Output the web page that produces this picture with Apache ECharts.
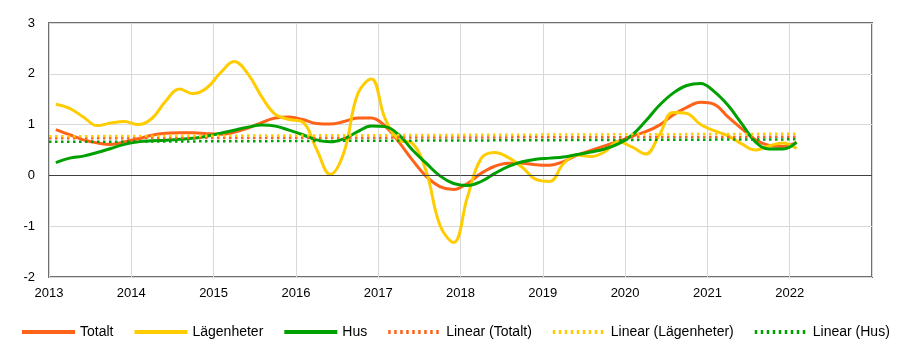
<!DOCTYPE html>
<html>
<head>
<meta charset="utf-8">
<script src="https://cdn.jsdelivr.net/npm/echarts@6/dist/echarts.min.js"></script>
<style>
    html, body { margin: 0; padding: 0; background: #fff; }
    #chart { width: 898px; height: 352px; }
</style>
</head>
<body>
<div id="chart"></div>
<script>
    // every second month, Feb 2013 .. Feb 2022
    var periods = [];
    for (var y = 2013; y <= 2022; y++) {
        ['02', '04', '06', '08', '10', '12'].forEach(function (m) {
            if (y < 2022 || m === '02') periods.push(y + '-' + m);
        });
    }

    var yearTicks = [2013, 2014, 2015, 2016, 2017, 2018, 2019, 2020, 2021, 2022];

    var totalt = [
        0.90, 0.80, 0.70, 0.64, 0.61, 0.66,
        0.72, 0.79, 0.83, 0.84, 0.84, 0.82,
        0.81, 0.85, 0.93, 1.04, 1.13, 1.15,
        1.10, 1.02, 1.01, 1.06, 1.13, 1.13,
        0.97, 0.66, 0.30, -0.02, -0.22, -0.28,
        -0.16, 0.04, 0.18, 0.24, 0.24, 0.21,
        0.20, 0.27, 0.40, 0.49, 0.58, 0.67,
        0.77, 0.86, 0.99, 1.19, 1.34, 1.44,
        1.40, 1.15, 0.92, 0.70, 0.59, 0.57,
        0.65
    ];
    var lagenheter = [
        1.40, 1.32, 1.15, 0.98, 1.03, 1.06,
        1.00, 1.12, 1.46, 1.70, 1.61, 1.72,
        2.02, 2.24, 2.00, 1.55, 1.20, 1.10,
        1.05, 0.52, 0.02, 0.45, 1.60, 1.90,
        1.12, 0.70, 0.63, 0.08, -0.98, -1.32,
        -0.43, 0.33, 0.45, 0.35, 0.16, -0.08,
        -0.12, 0.23, 0.40, 0.37, 0.46, 0.66,
        0.56, 0.42, 0.80, 1.24, 1.22, 1.00,
        0.88, 0.78, 0.62, 0.50, 0.58, 0.64,
        0.53
    ];
    var hus = [
        0.25, 0.34, 0.38, 0.45, 0.53, 0.61,
        0.66, 0.68, 0.69, 0.71, 0.73, 0.77,
        0.83, 0.89, 0.95, 0.99, 0.97, 0.89,
        0.80, 0.70, 0.66, 0.72, 0.86, 0.97,
        0.96, 0.80, 0.50, 0.24, -0.01, -0.16,
        -0.20, -0.12, 0.04, 0.18, 0.27, 0.32,
        0.34, 0.36, 0.41, 0.46, 0.52, 0.62,
        0.79, 1.07, 1.38, 1.62, 1.77, 1.81,
        1.65, 1.38, 1.02, 0.66, 0.52, 0.52,
        0.65
    ];

    // linear trend lines: [start, end]
    var trendX = [2013.0, 2022.1];
    var trendTotalt = [0.73, 0.76];
    var trendLagenheter = [0.77, 0.82];
    var trendHus = [0.66, 0.71];

    var colors = {
        totalt: '#ff6319',
        lagenheter: '#ffcc00',
        hus: '#00a000'
    };

    function toYear(p) {
        var parts = p.split('-');
        return +parts[0] + (+parts[1] - 1) / 12;
    }
    function pairs(xs, vals) {
        return vals.map(function (v, i) { return [xs[i], v]; });
    }
    var xs = periods.map(toYear);

    function solid(name, vals, color) {
        return {
            name: name, type: 'line', data: pairs(xs, vals),
            smooth: 0.4, symbol: 'none', color: color,
            lineStyle: { width: 3, color: color }
        };
    }
    function trend(name, vals, color) {
        return {
            name: name, type: 'line', data: pairs(trendX, vals),
            symbol: 'none', color: color,
            lineStyle: { width: 2.5, color: color, type: [2.5, 3.5] }
        };
    }

    var series = [
        solid('Totalt', totalt, colors.totalt),
        solid('Lägenheter', lagenheter, colors.lagenheter),
        solid('Hus', hus, colors.hus),
        trend('Linear (Totalt)', trendTotalt, colors.totalt),
        trend('Linear (Lägenheter)', trendLagenheter, colors.lagenheter),
        trend('Linear (Hus)', trendHus, colors.hus)
    ];
    // zero line
    series[0].markLine = {
        silent: true, symbol: 'none', label: { show: false },
        lineStyle: { color: '#404040', width: 1, type: 'solid' },
        data: [{ yAxis: 0 }]
    };

    var chart = echarts.init(document.getElementById('chart'));
    chart.setOption({
        animation: false,
        textStyle: { fontFamily: 'Liberation Sans, Arial, sans-serif' },
        grid: {
            left: 49, right: 26, top: 23, bottom: 75,
            show: true, borderColor: '#707070', borderWidth: 2,
            containLabel: false, outerBoundsMode: 'none'
        },
        legend: {
            left: 15, top: 320, width: 890, padding: 5,
            itemWidth: 53, itemHeight: 14, itemGap: 19,
            itemStyle: { opacity: 0 },
            lineStyle: { width: 4 },
            textStyle: { fontSize: 14, color: '#000' },
            data: series.map(function (s) { return s.name; })
        },
        xAxis: {
            type: 'value', min: 2013, max: 2023, interval: 1,
            axisLine: { show: false },
            axisTick: { show: false },
            axisLabel: {
                fontSize: 13, color: '#000', margin: 10,
                formatter: function (v) { return yearTicks.indexOf(v) >= 0 ? String(v) : ''; }
            },
            splitLine: { show: true, lineStyle: { color: '#d9d9d9', width: 1 } }
        },
        yAxis: {
            type: 'value', min: -2, max: 3, interval: 1,
            axisLine: { show: false },
            axisTick: { show: false },
            axisLabel: { fontSize: 13, color: '#000', margin: 14 },
            splitLine: { show: true, lineStyle: { color: '#d9d9d9', width: 1 } }
        },
        series: series
    });
</script>
</body>
</html>
